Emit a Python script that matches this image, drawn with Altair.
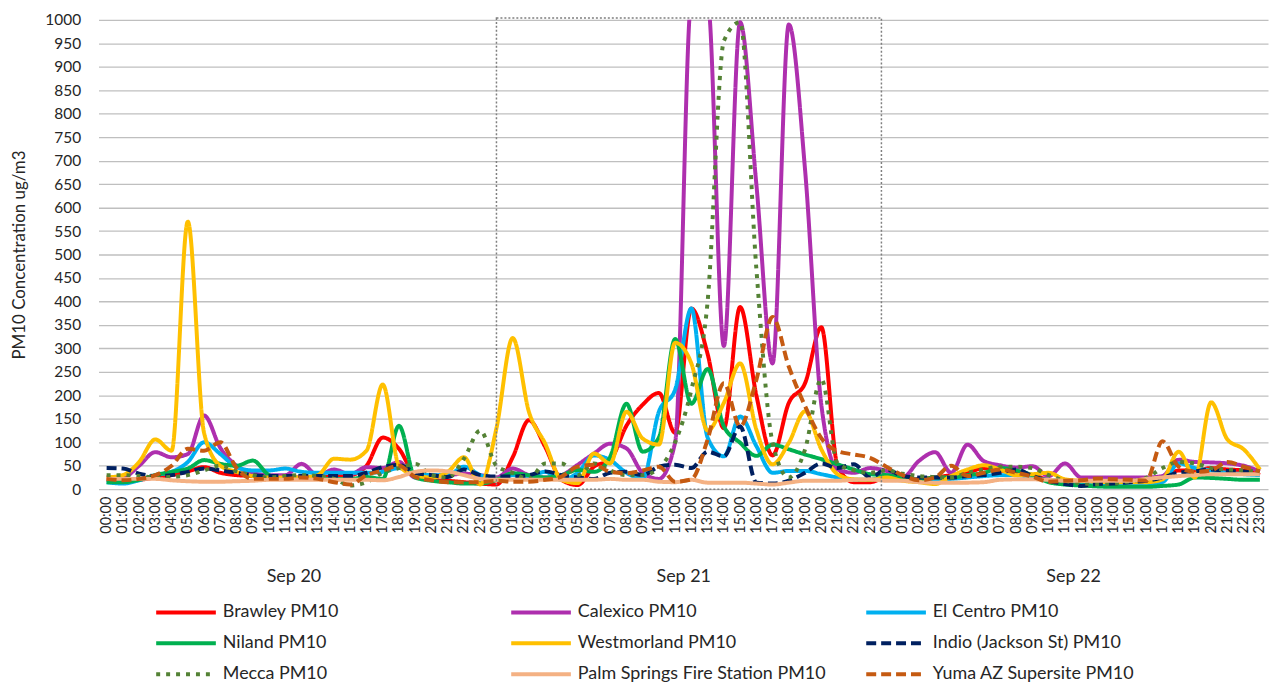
import altair as alt
import pandas as pd

SERIES = ["Brawley PM10", "Calexico PM10", "El Centro PM10", "Niland PM10",
          "Westmorland PM10", "Indio (Jackson St) PM10", "Mecca PM10",
          "Palm Springs Fire Station PM10", "Yuma AZ Supersite PM10"]
COLORS = ["#FF0000", "#AE2FAE", "#00B0F0", "#00B050", "#FFC000",
          "#002060", "#548235", "#F4B183", "#C55A11"]
DASHES = [[1, 0], [1, 0], [1, 0], [1, 0], [1, 0], [10, 5], [4, 6], [1, 0], [10, 5]]

HOUR_LABELS = ["00:00", "01:00", "02:00", "03:00", "04:00", "05:00", "06:00", "07:00",
               "08:00", "09:00", "10:00", "11:00", "12:00", "13:00", "14:00", "15:00",
               "16:00", "17:00", "18:00", "19:00", "20:00", "21:00", "22:00", "23:00"]
DAY_LABELS = ["Sep 20", "Sep 21", "Sep 22"]

BRAWLEY = ([20, 18, 20, 25, 30, 38, 47, 35, 30, 28, 25, 25, 25, 25, 28, 30, 50, 110, 86, 30, 20, 18, 15, 12]
           + [10, 68, 147, 90, 20, 9, 48, 62, 135, 180, 205, 120, 385, 288, 130, 388, 200, 72, 184, 226, 345, 50, 15, 15]
           + [25, 20, 22, 25, 30, 35, 45, 40, 35, 30, 20, 15, 12, 10, 10, 10, 12, 20, 40, 40, 45, 42, 40, 30])
CALEXICO = ([25, 25, 50, 79, 68, 75, 157, 88, 50, 35, 30, 30, 54, 30, 42, 32, 47, 45, 58, 25, 28, 30, 33, 30]
            + [25, 44, 30, 25, 30, 52, 76, 97, 87, 35, 22, 100, 1040, 1040, 305, 995, 650, 268, 990, 680, 180, 42, 35, 45]
            + [39, 25, 60, 79, 35, 95, 60, 51, 46, 49, 28, 55, 25, 25, 25, 25, 25, 28, 63, 58, 57, 55, 50, 38])
EL_CENTRO = ([15, 12, 19, 30, 37, 58, 100, 75, 47, 40, 40, 44, 37, 35, 35, 35, 35, 37, 45, 35, 30, 30, 48, 30]
             + [20, 30, 28, 37, 20, 35, 72, 62, 35, 22, 165, 212, 385, 110, 70, 155, 92, 35, 39, 39, 32, 25, 20, 20]
             + [30, 20, 20, 20, 22, 25, 28, 30, 30, 25, 20, 18, 15, 12, 10, 10, 10, 15, 55, 45, 40, 35, 32, 30])
NILAND = ([15, 15, 20, 30, 37, 44, 62, 54, 50, 61, 30, 22, 22, 22, 22, 22, 26, 22, 135, 25, 18, 15, 12, 12]
          + [20, 34, 30, 25, 30, 41, 37, 69, 182, 80, 110, 320, 182, 256, 134, 99, 71, 95, 85, 74, 64, 53, 42, 32]
          + [30, 25, 20, 25, 25, 30, 35, 45, 40, 30, 15, 10, 8, 6, 5, 5, 5, 7, 10, 25, 24, 22, 20, 20])
WESTMORLAND = ([25, 30, 58, 106, 82, 570, 120, 50, 37, 28, 25, 25, 25, 30, 65, 63, 82, 223, 50, 30, 25, 37, 68, 10]
               + [130, 322, 165, 97, 20, 13, 76, 55, 165, 108, 95, 312, 268, 125, 184, 268, 127, 53, 99, 166, 85, 32, 21, 20]
               + [25, 18, 15, 11, 28, 42, 51, 42, 30, 32, 35, 21, 18, 16, 15, 15, 15, 21, 80, 25, 185, 106, 85, 42])
INDIO = ([45, 44, 33, 28, 30, 37, 44, 40, 35, 30, 28, 28, 28, 28, 28, 28, 35, 47, 52, 35, 30, 26, 42, 30]
         + [27, 27, 30, 38, 30, 25, 22, 35, 37, 30, 48, 52, 45, 80, 70, 134, 14, 12, 18, 35, 55, 45, 53, 25]
         + [42, 28, 25, 25, 25, 28, 30, 35, 42, 28, 18, 11, 7, 11, 12, 15, 18, 25, 35, 38, 42, 39, 38, 35])
MECCA = ([30, 30, 28, 25, 26, 30, 40, 50, 38, 30, 25, 28, 30, 28, 22, 8, 15, 35, 45, 54, 30, 25, 65, 125]
         + [50, 35, 22, 55, 55, 30, 55, 40, 30, 30, 45, 100, 212, 400, 955, 995, 470, 99, 25, 85, 235, 55, 40, 35]
         + [40, 33, 28, 26, 25, 35, 42, 48, 48, 45, 30, 18, 13, 11, 12, 17, 24, 45, 58, 55, 45, 42, 40, 38])
PALM_SPRINGS = ([22, 22, 22, 22, 19, 17, 16, 16, 17, 18, 20, 20, 20, 20, 20, 20, 20, 19, 26, 37, 40, 38, 30, 22]
                + [20, 20, 20, 20, 20, 20, 20, 22, 20, 20, 16, 15, 20, 14, 14, 14, 12, 10, 14, 18, 18, 18, 20, 21]
                + [18, 18, 15, 14, 14, 14, 15, 20, 21, 21, 20, 18, 18, 18, 18, 18, 22, 25, 28, 30, 32, 32, 32, 32])
YUMA = ([22, 19, 22, 30, 50, 86, 82, 100, 45, 22, 22, 22, 25, 22, 15, 10, 30, 40, 50, 26, 19, 15, 15, 15]
        + [18, 16, 16, 20, 27, 48, 52, 37, 34, 40, 48, 16, 21, 106, 226, 134, 233, 367, 261, 177, 109, 81, 74, 67]
        + [48, 30, 19, 25, 50, 28, 35, 42, 35, 27, 16, 18, 19, 23, 21, 20, 18, 102, 48, 37, 40, 58, 48, 38])

VALUES = [BRAWLEY, CALEXICO, EL_CENTRO, NILAND, WESTMORLAND, INDIO, MECCA, PALM_SPRINGS, YUMA]

# highlighted period (Sep 21) in hour-index units
BOX_START, BOX_END, BOX_TOP = 24, 47.7, 1004

rows = []
for name, vals in zip(SERIES, VALUES):
    for t, v in enumerate(vals):
        rows.append({"t": t, "series": name, "value": v})
df = pd.DataFrame(rows)

FONT = "Lato"
TXT = "#262626"

hour_expr = "[" + ",".join("'%s'" % h for h in HOUR_LABELS) + "][datum.value % 24]"
day_expr = "[" + ",".join("'%s'" % d for d in DAY_LABELS) + "][floor(datum.value / 24)]"

x_scale = alt.Scale(domain=[-0.5, 71.5], nice=False, zero=False)
y_scale = alt.Scale(domain=[0, 1000], nice=False)

y_axis = alt.Axis(
    values=list(range(0, 1001, 50)), format="d", grid=True, gridColor="#BFBFBF",
    gridWidth=1.3, domain=False, ticks=False, tickSize=0, labelPadding=18,
    labelFont=FONT, labelFontSize=15.5, labelColor=TXT,
    title="PM10 Concentration ug/m3", titleFont=FONT, titleFontSize=17,
    titleFontWeight="normal", titleColor=TXT, titleX=-79, titleBaseline="middle")

legend = alt.Legend(
    title=None, orient="none", legendX=58, legendY=584, columns=3,
    direction="horizontal", gridAlign="all", columnPadding=32, rowPadding=10,
    symbolType="M-3,0H3", symbolSize=400, symbolStrokeWidth=4, symbolOffset=18,
    labelOffset=25, labelFont=FONT, labelFontSize=18, labelColor=TXT,
    labelLimit=400, padding=0,
)

lines = alt.Chart(df).mark_line(
    interpolate="monotone", strokeWidth=4, clip=True, strokeJoin="round"
).encode(
    x=alt.X("t:Q", scale=x_scale, axis=alt.Axis(
        orient="bottom", values=list(range(72)), labelExpr=hour_expr, labelAngle=-90,
        grid=False, domain=False, ticks=False, tickSize=0, labelPadding=7,
        labelFont=FONT, labelFontSize=14.5, labelColor=TXT, labelOverlap=False,
        title=None)),
    y=alt.Y("value:Q", scale=y_scale, axis=y_axis),
    color=alt.Color("series:N", scale=alt.Scale(domain=SERIES, range=COLORS), legend=legend),
    strokeDash=alt.StrokeDash("series:N", scale=alt.Scale(domain=SERIES, range=DASHES), legend=legend),
)

box_df = pd.DataFrame({"x0": [BOX_START], "x1": [BOX_END], "y0": [0], "y1": [BOX_TOP]})
box = alt.Chart(box_df).mark_rect(
    fillOpacity=0, stroke="#7F7F7F", strokeWidth=1.5, strokeDash=[2, 2]
).encode(
    x=alt.X("x0:Q", scale=x_scale, axis=None),
    x2="x1",
    y=alt.Y("y0:Q", scale=y_scale, axis=y_axis),
    y2="y1",
)

day_df = pd.DataFrame({"t": [11.5, 35.5, 59.5], "day": DAY_LABELS})
days = alt.Chart(day_df).mark_point(opacity=0).encode(
    x=alt.X("t:Q", scale=x_scale, axis=alt.Axis(
        orient="bottom", values=[11.5, 35.5, 59.5], labelExpr=day_expr, labelAngle=0,
        grid=False, domain=False, ticks=False, tickSize=0, labelPadding=88,
        labelFont=FONT, labelFontSize=18, labelColor=TXT, labelBaseline="middle",
        title=None)),
)

chart = alt.layer(lines, box, days).resolve_axis(x="independent").properties(
    width=1176, height=472,
    autosize=alt.AutoSizeParams(type="none"),
    padding={"left": 91, "top": 10, "right": 2, "bottom": 196},
    background="white",
).configure_view(stroke=None)

chart.save("out.html", embed_options={"renderer": "svg", "actions": False})
